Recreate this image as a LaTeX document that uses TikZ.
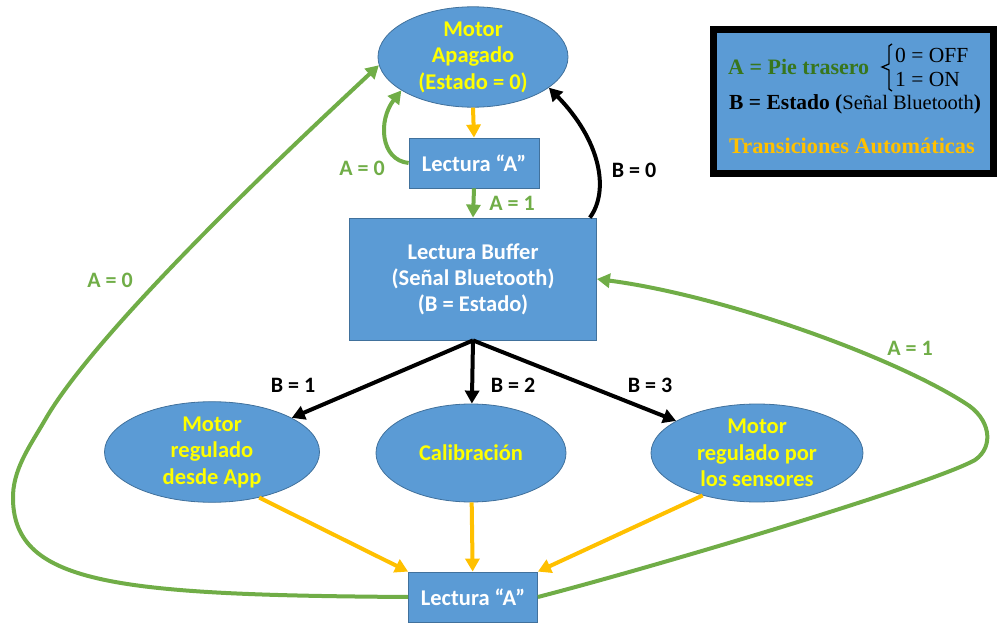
\documentclass[tikz,border=0pt]{standalone}
\usepackage{fontspec}
\setmainfont{Carlito}
\newfontfamily\leyendafont{Liberation Serif}
\usetikzlibrary{shapes.geometric,arrows.meta}

\definecolor{cajaazul}{HTML}{5B9BD5}
\definecolor{bordeazul}{HTML}{41719C}
\definecolor{verde}{HTML}{70AD47}
\definecolor{naranja}{HTML}{FFC000}
\definecolor{amarillo}{HTML}{FFFF00}
\definecolor{verdeosc}{HTML}{38761D}

\begin{document}
\begin{tikzpicture}[x=1pt,y=-1pt,
  estado/.style={ellipse,fill=cajaazul,draw=bordeazul,line width=0.8pt,inner sep=0pt,
    text=amarillo,font=\fontsize{22.5}{26.5}\selectfont\bfseries,align=center},
  lectura/.style={rectangle,fill=cajaazul,draw=bordeazul,line width=0.8pt,inner sep=0pt,
    text=white,font=\fontsize{22.5}{26}\selectfont\bfseries,align=center},
  flecha/.style={line width=4pt,-{Triangle[length=13pt,width=14pt]}},
  etiqueta/.style={font=\fontsize{22}{24}\selectfont\bfseries},
  leyendatxt/.style={anchor=west,inner sep=0pt,font=\leyendafont\fontsize{21.5}{24}\selectfont}
]

  % Fix the page size
  \useasboundingbox (0,0) rectangle (997,623);

  % States and readings
  \node[estado,minimum width=190pt,minimum height=100pt] (M0) at (473,57) {Motor\\Apagado\\(Estado = 0)};
  \node[lectura,minimum width=130pt,minimum height=50pt] (LA1) at (474,163) {Lectura “A”};
  \node[lectura,minimum width=247pt,minimum height=122pt] (LB) at (473,279) {Lectura Buffer\\(Señal Bluetooth)\\(B = Estado)};
  \node[estado,minimum width=215pt,minimum height=97pt] (MA) at (212,452) {Motor\\regulado\\desde App};
  \node[estado,minimum width=190pt,minimum height=98pt] (CAL) at (471,453) {Calibración};
  \node[estado,minimum width=212pt,minimum height=98pt] (MR) at (757,453) {Motor\\regulado por\\los sensores};
  \node[lectura,minimum width=129pt,minimum height=50pt] (LA2) at (473,597) {Lectura “A”};

  % Automatic transitions
  \draw[flecha,naranja] (M0.south) -- (LA1.north);
  \draw[flecha,naranja] (MA.-44) -- (LA2.north west);
  \draw[flecha,naranja] (CAL) -- (LA2);
  \draw[flecha,naranja] (MR.218) -- (LA2.north east);

  % Reading of A at the top
  \draw[flecha,verde] (LA1.south) -- (LB.north);
  \node[etiqueta,text=verde] (a1top) at (512,203) {A = 1};
  \draw[flecha,verde] (LA1.west) .. controls (380,160) and (378,120) .. (M0.205);
  \node[etiqueta,text=verde] (a0top) at (362,168) {A = 0};

  % Buffer reading
  \coordinate (LBne) at ([xshift=-7pt]LB.north east);
  \draw[flecha] (LBne) .. controls (610,190) and (600,140) .. (M0.338);
  \node[etiqueta] (b0) at (634,170) {B = 0};
  \draw[flecha] (LB.south) -- (MA);
  \draw[flecha] (LB.south) -- (CAL);
  \draw[flecha] (LB.south) -- (MR);
  \node[etiqueta] (b1) at (293,385) {B = 1};
  \node[etiqueta] (b2) at (513,385) {B = 2};
  \node[etiqueta] (b3) at (650,385) {B = 3};

  % Reading of A at the bottom
  \draw[flecha,verde] (LA2.west) .. controls (120,595) and (15,585) .. (13,500)
    .. controls (12,470) and (30,446) .. (45,420)
    .. controls (100,324) and (315,125) .. (M0.185);
  \node[etiqueta,text=verde] (a0low) at (110,280) {A = 0};
  \draw[flecha,verde] (LA2.east) .. controls (650,568) and (930,485) .. (975,460)
    .. controls (995,446) and (990,418) .. (965,403)
    .. controls (890,355) and (720,295) .. (LB.east);
  \node[etiqueta,text=verde] (a1low) at (910,348) {A = 1};

  % Legend
  \node[draw=black,line width=7pt,fill=cajaazul,minimum width=280pt,minimum height=144pt,inner sep=0pt] (leyenda) at (853.5,101.5) {};
  \node[leyendatxt,text=verdeosc,font=\leyendafont\fontsize{22}{24}\selectfont\bfseries] (pie) at (728,67) {A = Pie trasero};
  \draw[line width=1.3pt] (892,44) -- (889,46) -- (889,64) -- (882,67) -- (889,70) -- (889,89) -- (892,91);
  \node[leyendatxt] (off) at (895,55) {0 = OFF};
  \node[leyendatxt] (on) at (895,79) {1 = ON};
  \node[leyendatxt] (estado) at (729,104) {\bfseries B = Estado (\mdseries\fontsize{20.5}{22}\selectfont Señal Bluetooth\bfseries\fontsize{21.5}{24}\selectfont)};
  \node[leyendatxt,text=naranja,font=\leyendafont\fontsize{22.3}{24}\selectfont\bfseries] (auto) at (729,146) {Transiciones Automáticas};

\end{tikzpicture}
\end{document}
